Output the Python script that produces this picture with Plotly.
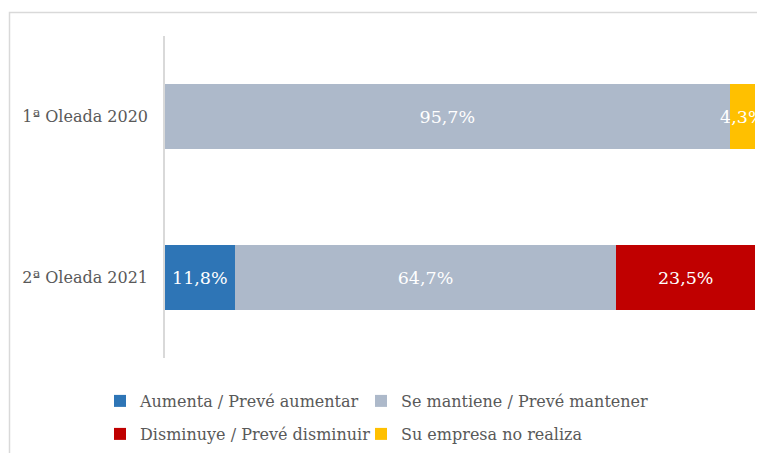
import plotly.graph_objects as go

categories = ["1ª Oleada 2020", "2ª Oleada 2021"]
series_names = ["Aumenta / Prevé aumentar", "Se mantiene / Prevé mantener",
                "Disminuye / Prevé disminuir", "Su empresa no realiza"]
aumenta = [None, 11.8]
mantiene = [95.7, 64.7]
disminuye = [None, 23.5]
no_realiza = [4.3, None]
colors = ["#2E75B6", "#ADB9CA", "#C00000", "#FFC000"]
legend_ids = ["legend", "legend2", "legend3", "legend4"]

FONT = "DejaVu Serif"
GRAY = "#595959"

def fmt(vals):
    return ["" if v is None else f"{v:.1f}%".replace(".", ",") for v in vals]

fig = go.Figure()
for name, vals, col, lg in zip(series_names, [aumenta, mantiene, disminuye, no_realiza], colors, legend_ids):
    fig.add_trace(go.Bar(
        y=categories, x=vals, name=name, orientation="h",
        marker=dict(color=col, line=dict(width=0)),
        text=fmt(vals), textposition="inside", insidetextanchor="middle", textangle=0,
        textfont=dict(color="white", size=17.5, family=FONT),
        constraintext="none", cliponaxis=True, hoverinfo="skip", legend=lg,
    ))

# page has an 8px body margin; figure is sized to fit the window
OFF = 8
W, H = 765 - OFF, 453 - OFF
L, R, T, B = 165 - OFF, 10, 36 - OFF, 95
pw, ph = W - L - R, H - T - B

def px_x(x):
    return (x - OFF - L) / pw

def px_y(y):
    return (H - B - (y - OFF)) / ph

def cx(x):
    return (x - OFF) / W

def cy(y):
    return 1 - (y - OFF) / H

legend_common = dict(orientation="h", xanchor="left", yanchor="top",
                     xref="container", yref="container", traceorder="normal",
                     font=dict(family=FONT, size=16, color=GRAY), itemwidth=30,
                     bgcolor="rgba(0,0,0,0)")

col_x = [100, 361]
row_y = [384, 417]

fig.update_layout(
    width=W, height=H, barmode="stack", bargap=0.596,
    margin=dict(l=L, r=R, t=T, b=B, autoexpand=False),
    paper_bgcolor="white", plot_bgcolor="white",
    font=dict(family=FONT, size=15, color=GRAY),
    xaxis=dict(range=[0, 100], visible=False, fixedrange=True),
    yaxis=dict(autorange="reversed", showline=True, linecolor="#D9D9D9", linewidth=1.5,
               showgrid=False, ticks="", ticklabelstandoff=12,
               tickfont=dict(family=FONT, size=16, color=GRAY)),
    legend=dict(x=cx(col_x[0]), y=cy(row_y[0]), **legend_common),
    legend2=dict(x=cx(col_x[1]), y=cy(row_y[0]), **legend_common),
    legend3=dict(x=cx(col_x[0]), y=cy(row_y[1]), **legend_common),
    legend4=dict(x=cx(col_x[1]), y=cy(row_y[1]), **legend_common),
    showlegend=True,
    shapes=[dict(type="rect", xref="paper", yref="paper",
                 x0=px_x(9.5), x1=px_x(780), y0=px_y(480), y1=px_y(12.5),
                 line=dict(color="#D9D9D9", width=1.5), fillcolor="rgba(0,0,0,0)", layer="below")],
)

fig.write_html("out.html")
